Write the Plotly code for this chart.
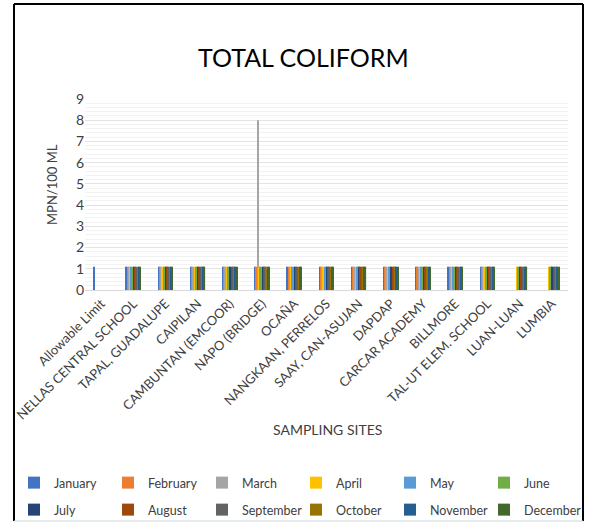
import plotly.graph_objects as go

sites = ["Allowable Limit", "NELLAS CENTRAL SCHOOL", "TAPAL, GUADALUPE", "CAIPILAN",
         "CAMBUNTAN (EMCOOR)", "NAPO (BRIDGE)", "OCAÑA", "NANGKAAN, PERRELOS",
         "SAAY, CAN-ASUJAN", "DAPDAP", "CARCAR ACADEMY", "BILLMORE",
         "TAL-UT ELEM. SCHOOL", "LUAN-LUAN", "LUMBIA"]
months = ["January", "February", "March", "April", "May", "June",
          "July", "August", "September", "October", "November", "December"]
colors = ["#4472C4", "#ED7D31", "#A5A5A5", "#FFC000", "#5B9BD5", "#70AD47",
          "#264478", "#9E480E", "#636363", "#997300", "#255E91", "#43682B"]

N = None
values = {
    "January":   [1.1, 1.1, 1.1, 1.1, 1.1, 1.1, 1.1, 1.1, 1.1, 1.1, 1.1, 1.1, 1.1, N, N],
    "February":  [N, 1.1, 1.1, 1.1, 1.1, 1.1, 1.1, 1.1, 1.1, 1.1, 1.1, 1.1, 1.1, N, N],
    "March":     [N, 1.1, 1.1, 1.1, 1.1, 8.0, 1.1, 1.1, 1.1, 1.1, 1.1, 1.1, 1.1, N, N],
    "April":     [N, 1.1, 1.1, 1.1, 1.1, 1.1, 1.1, 1.1, 1.1, 1.1, 1.1, 1.1, 1.1, 1.1, 1.1],
    "May":       [N, 1.1, 1.1, 1.1, 1.1, 1.1, 1.1, 1.1, 1.1, 1.1, 1.1, 1.1, 1.1, 1.1, 1.1],
    "June":      [N, 1.1, 1.1, 1.1, 1.1, 1.1, 1.1, 1.1, 1.1, 1.1, 1.1, 1.1, 1.1, 1.1, 1.1],
    "July":      [N, 1.1, 1.1, 1.1, 1.1, 1.1, 1.1, 1.1, 1.1, 1.1, 1.1, 1.1, 1.1, 1.1, 1.1],
    "August":    [N, 1.1, 1.1, 1.1, 1.1, 1.1, 1.1, 1.1, 1.1, 1.1, 1.1, 1.1, 1.1, 1.1, 1.1],
    "September": [N, 1.1, 1.1, 1.1, 1.1, 1.1, 1.1, 1.1, 1.1, 1.1, 1.1, 1.1, 1.1, 1.1, 1.1],
    "October":   [N, 1.1, 1.1, 1.1, 1.1, 1.1, 1.1, 1.1, 1.1, 1.1, 1.1, 1.1, 1.1, 1.1, 1.1],
    "November":  [N, 1.1, 1.1, 1.1, 1.1, 1.1, 1.1, 1.1, 1.1, 1.1, 1.1, 1.1, 1.1, 1.1, 1.1],
    "December":  [N, 1.1, 1.1, 1.1, 1.1, 1.1, 1.1, 1.1, 1.1, 1.1, 1.1, 1.1, 1.1, 1.1, 1.1],
}
yticks = [0, 1, 2, 3, 4, 5, 6, 7, 8, 9]

FONT = "Lato, 'Open Sans', sans-serif"
W, H = 592, 525
L, R, T, B = 85, 24, 99, 235
pw, ph = W - L - R, H - T - B

# legend layout (pixel positions of each legend column / row)
leg_cols = [14, 108, 202, 296, 390, 484]
leg_rows = [483, 510]


def px_x(x):
    return (x - L) / pw


def px_y(y):
    return (H - B - y) / ph


fig = go.Figure()
legend_defs = {}
for i, (m, c) in enumerate(zip(months, colors)):
    key = "legend" if i == 0 else f"legend{i + 1}"
    fig.add_trace(go.Bar(x=sites, y=values[m], name=m, marker_color=c,
                         marker_line_width=0, legend=key))
    legend_defs[key] = dict(
        x=px_x(leg_cols[i % 6]), y=px_y(leg_rows[i // 6]),
        xanchor="left", yanchor="middle", orientation="v",
        font=dict(size=12.5, color="#404040", family=FONT),
        itemwidth=30, bgcolor="rgba(0,0,0,0)")

border = dict(xref="paper", yref="paper", type="line", layer="above")
x0b, x1b, y0b, y1b = px_x(14), px_x(583), px_y(521), px_y(4)

fig.update_layout(
    width=W, height=H,
    margin=dict(l=L, r=R, t=T, b=B, autoexpand=False),
    paper_bgcolor="white", plot_bgcolor="white",
    barmode="group", bargap=0.54, bargroupgap=0,
    font=dict(family=FONT, color="#404040"),
    showlegend=True,
    xaxis=dict(tickangle=-45, tickfont=dict(size=13, color="#404040", family=FONT),
               showline=True, linecolor="#D9D9D9", linewidth=1, ticks="",
               showgrid=False, automargin=False),
    yaxis=dict(range=[0, 9], tickvals=yticks, ticktext=[str(v) for v in yticks],
               tickfont=dict(size=14, color="#404040", family=FONT),
               showgrid=True, gridcolor="#E4E4E4", gridwidth=1,
               zeroline=False, showline=False, ticks="", automargin=False,
               minor=dict(dtick=0.2, showgrid=True, gridcolor="#F2F2F2", gridwidth=1)),
    annotations=[
        dict(text="TOTAL COLIFORM", x=px_x(303), y=px_y(40), xref="paper", yref="paper",
             showarrow=False, font=dict(size=25, color="#000000", family=FONT)),
        dict(text="MPN/100 ML", x=px_x(42), y=px_y(185), xref="paper", yref="paper",
             showarrow=False, textangle=-90, font=dict(size=13, color="#404040", family=FONT)),
        dict(text="SAMPLING SITES", x=px_x(327), y=px_y(440), xref="paper", yref="paper",
             showarrow=False, font=dict(size=14, color="#404040", family=FONT)),
    ],
    shapes=[
        dict(x0=x0b, x1=x1b, y0=y1b, y1=y1b, line=dict(color="black", width=2), **border),
        dict(x0=x0b, x1=x0b, y0=y0b, y1=y1b, line=dict(color="black", width=2), **border),
        dict(x0=x1b, x1=x1b, y0=y0b, y1=y1b, line=dict(color="black", width=2), **border),
        dict(x0=x0b, x1=x1b, y0=y0b, y1=y0b, line=dict(color="#C9D6DC", width=1), **border),
    ],
)
fig.update_layout(**legend_defs)

fig.write_html("out.html")
